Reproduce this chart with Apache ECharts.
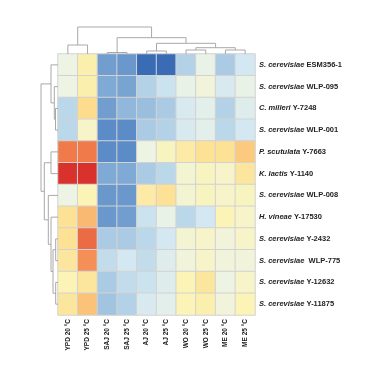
<!DOCTYPE html>
<html><head><meta charset="utf-8">
<script src="https://cdn.jsdelivr.net/npm/echarts@6/dist/echarts.min.js"></script>
<style>html,body{margin:0;padding:0;background:#fff}#c{width:380px;height:380px}</style>
</head><body><div id="c"></div>
<script>
var columns = ['YPD 20 °C','YPD 25 °C','SAJ 20 °C','SAJ 25 °C','AJ 20 °C','AJ 25 °C','WO 20 °C','WO 25 °C','ME 20 °C','ME 25 °C'];
var rowSpecies = ['S. cerevisiae','S. cerevisiae','C. milleri','S. cerevisiae','P. scutulata','K. lactis','S. cerevisiae','H. vineae','S. cerevisiae','S. cerevisiae ','S. cerevisiae','S. cerevisiae'];
var rowStrains = ['ESM356-1','WLP-095','Y-7248','WLP-001','Y-7663','Y-1140','WLP-008','Y-17530','Y-2432','WLP-775','Y-12632','Y-11875'];
var r01 = [0.0, 0.6, -1.7, -1.8, -2.5, -2.5, -0.9, -0.1, -1.0, -0.5];
var r02 = [0.0, 0.6, -1.5, -1.6, -0.9, -0.6, -0.1, 0.1, -0.4, -0.1];
var r03 = [-0.8, 1.0, -1.7, -1.3, -1.2, -1.0, -0.4, -0.2, -0.9, -0.3];
var r04 = [-0.8, 0.3, -2.0, -2.0, -1.0, -0.9, -0.4, -0.2, -0.8, -0.5];
var r05 = [2.0, 2.0, -2.0, -2.0, 0.0, 0.4, 0.7, 0.9, 0.9, 1.2];
var r06 = [2.5, 2.5, -1.5, -1.5, -1.0, -0.8, 0.2, 0.4, 0.3, 0.8];
var r07 = [0.0, 0.5, -1.8, -1.8, 0.7, 0.9, 0.2, 0.4, 0.3, 0.4];
var r08 = [0.9, 1.4, -1.8, -1.7, -0.6, -0.1, -0.8, -0.5, 0.5, 0.3];
var r09 = [0.9, 2.1, -1.0, -1.0, -0.8, -0.5, 0.2, 0.3, 0.1, 0.3];
var r10 = [0.8, 1.8, -0.7, -0.5, -0.7, -0.3, 0.1, 0.3, 0.1, 0.1];
var r11 = [0.5, 0.8, -1.0, -0.7, -0.6, -0.3, 0.5, 0.8, 0.0, 0.3];
var r12 = [0.8, 1.3, -1.1, -0.9, -0.4, -0.2, 0.5, 0.6, 0.1, 0.5];
// dendrogram merges: [nodeA, nodeB, height]; leaves 0..n-1, new nodes n, n+1, ...
var colMerges = [[0,1,9],[2,3,1.5],[4,5,3],[6,7,4],[8,9,4],[13,14,6.3],[12,15,10.7],[11,16,16.3],[10,17,27]];
var rowMerges = [[2,3,2.5],[1,12,3.7],[0,13,7],[4,5,7],[8,9,2.3],[10,11,2.3],[16,17,5],[7,18,7],[6,19,9.7],[15,20,13.7],[14,21,17]];

var rows = [r01,r02,r03,r04,r05,r06,r07,r08,r09,r10,r11,r12];
var heat = [];
rows.forEach(function(r, i){ r.forEach(function(v, j){ heat.push([j, i, v]); }); });

function dendro(merges, n){
  var pos = [], ht = [], out = [];
  for (var i=0;i<n;i++){ pos.push(i); ht.push(0); }
  merges.forEach(function(m){
    var a=m[0], b=m[1], h=m[2];
    out.push([pos[a], ht[a], pos[b], ht[b], h]);
    pos.push((pos[a]+pos[b])/2); ht.push(h);
  });
  return out;
}
var colD = dendro(colMerges, columns.length);
var rowD = dendro(rowMerges, rowStrains.length);

function mkRender(swap){
  return function(params, api){
    var pa=api.value(0), ha=api.value(1), pb=api.value(2), hb=api.value(3), h=api.value(4);
    var pts = swap ? [[ha,pa],[h,pa],[h,pb],[hb,pb]] : [[pa,ha],[pa,h],[pb,h],[pb,hb]];
    return {type:'polyline', shape:{points: pts.map(function(p){return api.coord(p);})},
      style:{stroke:'#a8a8a8', lineWidth:1, fill:null}, silent:true};
  };
}

var chart = echarts.init(document.getElementById('c'));
chart.setOption({
  animation:false,
  backgroundColor:'#fff',
  grid:[
    {left:58, top:54, width:197, height:261},
    {left:58, top:27, width:197, height:27},
    {left:41, top:54, width:17, height:261}
  ],
  xAxis:[
    {type:'category', gridIndex:0, data:columns, position:'bottom',
     axisLine:{show:false}, axisTick:{show:false}, splitLine:{show:false},
     axisLabel:{rotate:90, fontSize:6.5, fontWeight:'bold', color:'#222', fontFamily:'Liberation Sans', margin:4}},
    {type:'value', gridIndex:1, min:-0.5, max:9.5, show:false},
    {type:'value', gridIndex:2, min:0, max:17, inverse:true, show:false}
  ],
  yAxis:[
    {type:'category', gridIndex:0, data:rowStrains.map(function(s,i){return rowSpecies[i]+'|'+s;}), inverse:true, position:'right',
     axisLine:{show:false}, axisTick:{show:false}, splitLine:{show:false},
     axisLabel:{margin:4, fontFamily:'Liberation Sans', fontSize:7.5, fontWeight:'bold', color:'#222',
       formatter:function(v){var p=v.split('|'); return '{i|'+p[0]+'} {b|'+p[1]+'}';},
       rich:{i:{fontStyle:'italic', fontWeight:'bold', fontSize:7.5, fontFamily:'Liberation Sans', color:'#222'},
             b:{fontWeight:'bold', fontSize:7.5, fontFamily:'Liberation Sans', color:'#222'}}}},
    {type:'value', gridIndex:1, min:0, max:27, show:false},
    {type:'value', gridIndex:2, min:-0.5, max:11.5, inverse:true, show:false}
  ],
  visualMap:{show:false, seriesIndex:0, min:-2.5, max:2.5, dimension:2,
    inRange:{color:['#3a6bb5','#5c8cc7','#7faad5','#abcbe4','#d3e8f2','#eef4e4','#fbf4b6','#fddc8d','#f9b06b','#f07a4a','#d9312b']}},
  series:[
    {type:'heatmap', xAxisIndex:0, yAxisIndex:0, data:heat,
     itemStyle:{borderColor:'#d2d2d2', borderWidth:1}},
    {type:'custom', xAxisIndex:1, yAxisIndex:1, data:colD, renderItem:mkRender(false), clip:false},
    {type:'custom', xAxisIndex:2, yAxisIndex:2, data:rowD, renderItem:mkRender(true), clip:false}
  ]
});
</script></body></html>
